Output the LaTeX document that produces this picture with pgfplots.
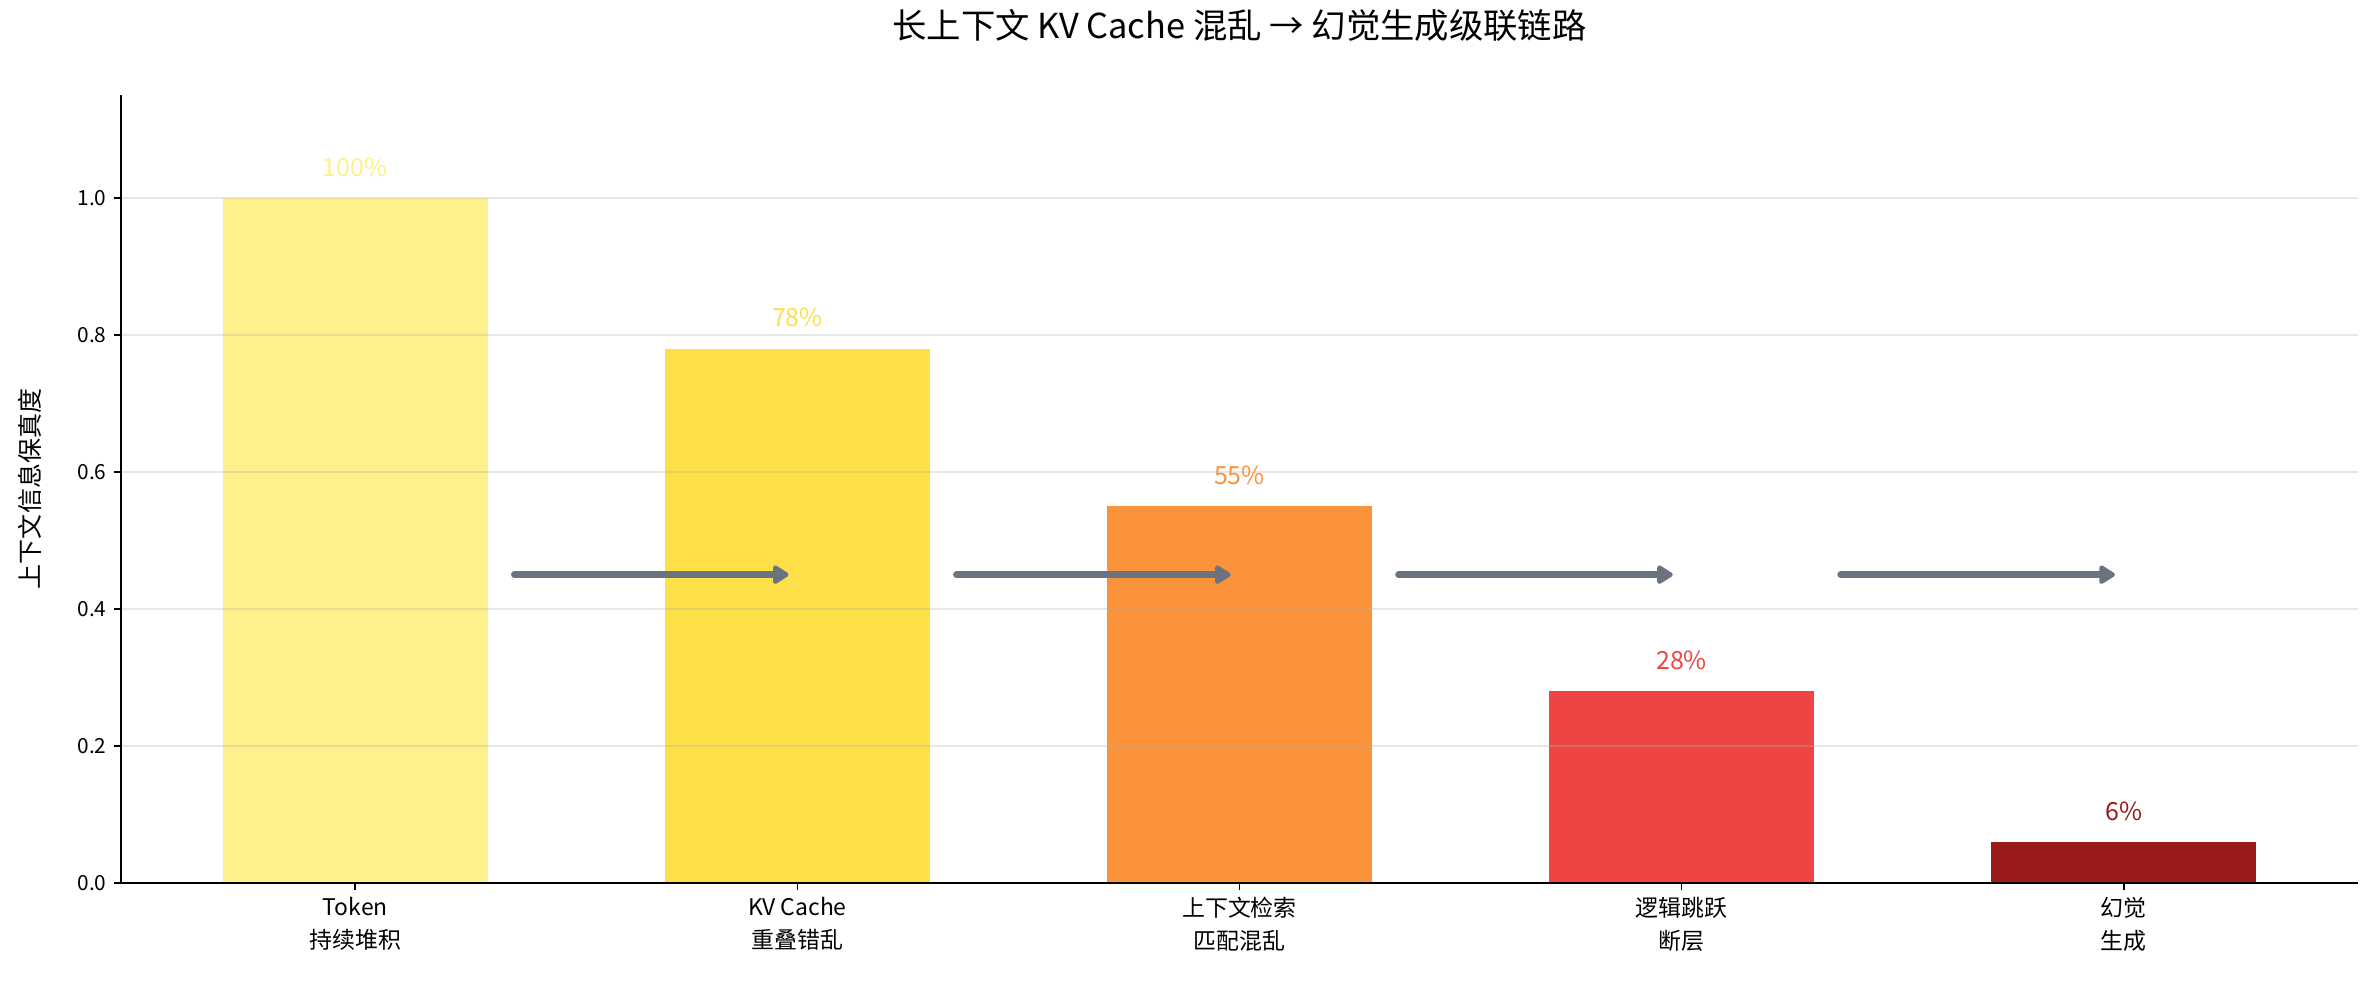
\documentclass[border=0pt]{standalone}
\usepackage{fontspec}
\setmainfont{Noto Sans CJK SC}
\usepackage{pgfplots}
\pgfplotsset{compat=1.18}
\usetikzlibrary{arrows.meta}
\definecolor{c1}{HTML}{FEF08A}
\definecolor{c2}{HTML}{FDE047}
\definecolor{c3}{HTML}{FB923C}
\definecolor{c4}{HTML}{EF4444}
\definecolor{c5}{HTML}{991B1B}
\definecolor{arr}{HTML}{6B7280}
\definecolor{gridc}{HTML}{B0B0B0}
\pgfplotsset{
  mybar/.style={ybar, bar width=0.6, bar shift=0pt, fill=#1, draw=none,
    point meta=explicit symbolic, nodes near coords,
    every node near coord/.append style={anchor=center, yshift=14.8pt, text=#1, font=\fontsize{12}{14}\selectfont}},
  myarrow/.style={arr, line width=3.3pt, line cap=round, mark=none, forget plot,
    -{Triangle[length=8.5pt,width=10pt,round]}},
}
\begin{document}
\begin{tikzpicture}
\useasboundingbox (-58.08pt,-47.52pt) rectangle (1083.84pt,423.84pt);
\begin{axis}[
  at={(0,0)}, anchor=south west,
  scale only axis, width=1073.76pt, height=378.24pt,
  xmin=-0.53, xmax=4.53, ymin=0, ymax=1.15,
  axis x line*=bottom, axis y line*=left,
  axis line style={-, line width=0.8pt, black},
  tick align=outside, major tick length=3.4pt,
  tick style={black, line width=0.8pt},
  xtick={0,1,2,3,4},
  xticklabels={{Token\\持续堆积},{KV Cache\\重叠错乱},{上下文检索\\匹配混乱},{逻辑跳跃\\断层},{幻觉\\生成}},
  xticklabel style={align=center, font=\fontsize{11}{15.8}\selectfont},
  ytick={0,0.2,0.4,0.6,0.8,1.0},
  yticklabel style={font=\fontsize{10}{12}\selectfont, /pgf/number format/fixed, /pgf/number format/fixed zerofill, /pgf/number format/precision=1},
  /pgf/number format/assume math mode=true,
  ymajorgrids, grid style={gridc, opacity=0.3, line width=0.8pt},
  axis on top,
  ylabel={上下文信息保真度},
  ylabel style={font=\fontsize{12}{14}\selectfont, at={(axis description cs:-0.0407,0.5)}, anchor=center},
  title={长上下文 KV Cache 混乱 → 幻觉生成级联链路},
  title style={font=\fontsize{16.5}{19}\selectfont, at={(axis description cs:0.5,1.0724)}, anchor=center},
]
\addplot[mybar=c1] coordinates {(0,1.00) [100\%]};
\addplot[mybar=c2] coordinates {(1,0.78) [78\%]};
\addplot[mybar=c3] coordinates {(2,0.55) [55\%]};
\addplot[mybar=c4] coordinates {(3,0.28) [28\%]};
\addplot[mybar=c5] coordinates {(4,0.06) [6\%]};
\addplot[myarrow] coordinates {(0.36,0.45) (0.98,0.45)};
\addplot[myarrow] coordinates {(1.36,0.45) (1.98,0.45)};
\addplot[myarrow] coordinates {(2.36,0.45) (2.98,0.45)};
\addplot[myarrow] coordinates {(3.36,0.45) (3.98,0.45)};
\end{axis}
\end{tikzpicture}
\end{document}
